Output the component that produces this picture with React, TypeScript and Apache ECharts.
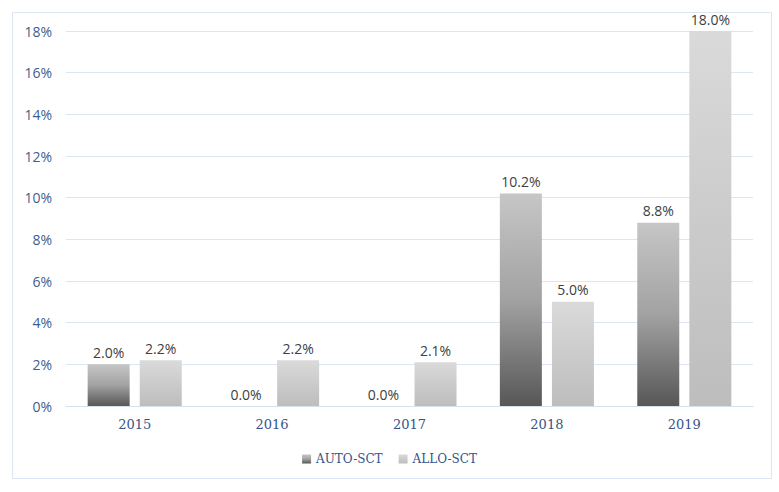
import React, { useEffect, useRef } from "react";
import * as echarts from "echarts";

const categories = ["2015", "2016", "2017", "2018", "2019"];
const autoSct = [2.0, 0.0, 0.0, 10.2, 8.8];
const alloSct = [2.2, 2.2, 2.1, 5.0, 18.0];
const seriesNames = ["AUTO-SCT", "ALLO-SCT"];

const blue = "#34548a";

export default function App() {
  const ref = useRef<HTMLDivElement>(null);
  useEffect(() => {
    if (!ref.current) return;
    const chart = echarts.init(ref.current, null, { renderer: "svg" });
    const autoGrad = new echarts.graphic.LinearGradient(0, 0, 0, 1, [
      { offset: 0, color: "#c6c6c6" },
      { offset: 0.5, color: "#a2a2a2" },
      { offset: 1, color: "#575757" },
    ]);
    const alloGrad = new echarts.graphic.LinearGradient(0, 0, 0, 1, [
      { offset: 0, color: "#dadada" },
      { offset: 1, color: "#bdbdbd" },
    ]);
    const label = {
      show: true,
      position: "top",
      distance: 5,
      color: "#404040",
      fontFamily: "Open Sans",
      fontSize: 14,
      formatter: (p: any) => Number(p.value).toFixed(1) + "%",
    };
    chart.setOption({
      animation: false,
      graphic: [
        {
          type: "rect",
          shape: { x: 12.5, y: 12.5, width: 759, height: 466 },
          style: { fill: "none", stroke: "#dce5f3", lineWidth: 1 },
          silent: true,
        },
      ],
      grid: { left: 66, right: 26, top: 31, bottom: 86 },
      legend: {
        bottom: 22,
        left: "center",
        itemWidth: 9,
        itemHeight: 9,
        itemGap: 16,
        icon: "rect",
        textStyle: { fontFamily: "DejaVu Serif", fontSize: 12, color: blue },
        data: seriesNames,
      },
      xAxis: {
        type: "category",
        data: categories,
        axisLine: { lineStyle: { color: "#d6e0f0" } },
        axisTick: { show: false },
        axisLabel: {
          margin: 12,
          fontFamily: "DejaVu Serif",
          fontSize: 13,
          color: blue,
        },
      },
      yAxis: {
        type: "value",
        min: 0,
        max: 18,
        interval: 2,
        axisLine: { show: false },
        axisTick: { show: false },
        splitLine: { lineStyle: { color: "#dce5f3" } },
        axisLabel: {
          formatter: "{value}%",
          margin: 14,
          fontFamily: "Open Sans",
          fontSize: 14,
          color: "#3f5d8e",
        },
      },
      series: [
        {
          name: seriesNames[0],
          type: "bar",
          data: autoSct,
          barWidth: 42,
          barGap: "24%",
          itemStyle: { color: autoGrad },
          label,
        },
        {
          name: seriesNames[1],
          type: "bar",
          data: alloSct,
          barWidth: 42,
          barGap: "24%",
          itemStyle: { color: alloGrad },
          label,
        },
      ],
    });
    return () => chart.dispose();
  }, []);
  return (
    <div
      ref={ref}
      style={{ position: "fixed", left: 0, top: 0, width: 779, height: 492, background: "#fff" }}
    />
  );
}
